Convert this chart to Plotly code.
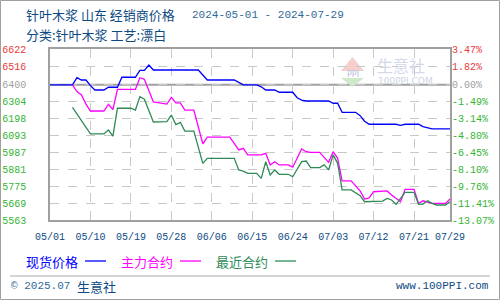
import plotly.graph_objects as go

# ---------------- data ----------------
spot_dates = ['2024-05-01', '2024-05-06', '2024-05-07', '2024-05-08', '2024-05-09', '2024-05-10',
              '2024-05-11', '2024-05-13', '2024-05-14', '2024-05-16', '2024-05-17', '2024-05-20',
              '2024-05-21', '2024-05-22', '2024-05-23', '2024-05-24', '2024-06-03', '2024-06-04',
              '2024-06-05', '2024-06-11', '2024-06-12', '2024-06-13', '2024-06-16', '2024-06-17',
              '2024-06-18', '2024-06-20', '2024-06-21', '2024-06-24', '2024-06-25', '2024-06-26',
              '2024-06-27', '2024-07-02', '2024-07-03', '2024-07-04', '2024-07-05', '2024-07-08',
              '2024-07-09', '2024-07-10', '2024-07-11', '2024-07-17', '2024-07-18', '2024-07-19',
              '2024-07-22', '2024-07-23', '2024-07-25', '2024-07-29']
spot_vals = [6400, 6400, 6445, 6430, 6430, 6395,
             6368, 6368, 6385, 6385, 6447, 6447,
             6490, 6490, 6523, 6492, 6492, 6460,
             6430, 6430, 6415, 6400, 6400, 6388,
             6368, 6368, 6354, 6354, 6320, 6305,
             6300, 6300, 6286, 6286, 6230, 6230,
             6209, 6175, 6156, 6156, 6149, 6156,
             6156, 6141, 6127, 6127]

main_dates = ['2024-05-06', '2024-05-07', '2024-05-08', '2024-05-09', '2024-05-10', '2024-05-13',
              '2024-05-14', '2024-05-15', '2024-05-16', '2024-05-20', '2024-05-21', '2024-05-22',
              '2024-05-24', '2024-05-27', '2024-05-28', '2024-05-29', '2024-05-30', '2024-05-31',
              '2024-06-02', '2024-06-04', '2024-06-05', '2024-06-10', '2024-06-12', '2024-06-13',
              '2024-06-14', '2024-06-17', '2024-06-18', '2024-06-19', '2024-06-20', '2024-06-21',
              '2024-06-23', '2024-06-24', '2024-06-26', '2024-06-27', '2024-06-28', '2024-06-30',
              '2024-07-02', '2024-07-03', '2024-07-04', '2024-07-05', '2024-07-07', '2024-07-09',
              '2024-07-10', '2024-07-11', '2024-07-12', '2024-07-15', '2024-07-16', '2024-07-17',
              '2024-07-18', '2024-07-19', '2024-07-21', '2024-07-22', '2024-07-23', '2024-07-24',
              '2024-07-25', '2024-07-28', '2024-07-29']
main_vals = [6400, 6358, 6337, 6281, 6238, 6238,
             6280, 6247, 6372, 6372, 6444, 6434,
             6294, 6281, 6322, 6288, 6288, 6244,
             6244, 6035, 6076, 6076, 5997, 6007,
             5966, 5966, 5976, 5904, 5924, 5904,
             5904, 5890, 6003, 5986, 5982, 5982,
             5920, 5986, 5945, 5805, 5805, 5743,
             5693, 5700, 5738, 5743, 5718, 5699,
             5676, 5753, 5753, 5666, 5682, 5673,
             5666, 5666, 5693]

near_dates = ['2024-05-06', '2024-05-07', '2024-05-08', '2024-05-09', '2024-05-10', '2024-05-13',
              '2024-05-14', '2024-05-15', '2024-05-16', '2024-05-19', '2024-05-20', '2024-05-21',
              '2024-05-22', '2024-05-24', '2024-05-27', '2024-05-28', '2024-05-29', '2024-05-30',
              '2024-05-31', '2024-06-02', '2024-06-04', '2024-06-05', '2024-06-11', '2024-06-12',
              '2024-06-13', '2024-06-14', '2024-06-16', '2024-06-17', '2024-06-18', '2024-06-19',
              '2024-06-20', '2024-06-21', '2024-06-23', '2024-06-24', '2024-06-26', '2024-06-27',
              '2024-06-28', '2024-06-30', '2024-07-01', '2024-07-02', '2024-07-03', '2024-07-04',
              '2024-07-05', '2024-07-07', '2024-07-08', '2024-07-09', '2024-07-10', '2024-07-14',
              '2024-07-15', '2024-07-16', '2024-07-17', '2024-07-19', '2024-07-21', '2024-07-22',
              '2024-07-23', '2024-07-24', '2024-07-25', '2024-07-26', '2024-07-28', '2024-07-29']
near_vals = [6260, 6218, 6182, 6134, 6096, 6096,
             6120, 6083, 6255, 6255, 6244, 6327,
             6311, 6170, 6172, 6213, 6154, 6168,
             6114, 6114, 5914, 5945, 5945, 5873,
             5866, 5852, 5852, 5821, 5924, 5842,
             5873, 5846, 5846, 5831, 5924, 5928,
             5887, 5887, 5904, 5873, 5966, 5914,
             5749, 5749, 5730, 5714, 5676, 5680,
             5697, 5687, 5660, 5734, 5734, 5660,
             5662, 5682, 5666, 5656, 5656, 5676]

BASE = 6400
Y_MIN, Y_MAX = 5563, 6622
left_labels = ['6622', '6516', '6400', '6304', '6198', '6093', '5987', '5881', '5775', '5669', '5563']
right_labels = ['3.47%', '1.82%', '0.00%', '-1.49%', '-3.14%', '-4.80%', '-6.45%', '-8.10%',
                '-9.76%', '-11.41%', '-13.07%']
x_tick_dates = ['2024-05-01', '2024-05-10', '2024-05-19', '2024-05-28', '2024-06-06', '2024-06-15',
                '2024-06-24', '2024-07-03', '2024-07-12', '2024-07-21', '2024-07-29']
x_tick_text = ['05/01', '05/10', '05/19', '05/28', '06/06', '06/15', '06/24', '07/03', '07/12',
               '07/21', '07/29']
series_names = ['现货价格', '主力合约', '最近合约']
series_colors = ['#0000ff', '#ff00ff', '#2e8b57']

# ---------------- layout helpers ----------------
W, H = 500, 300
L, R, T, B = 50, 450, 49, 220


def px(x):
    return (x - L) / (R - L)


def py(y):
    return (B - y) / (B - T)


step = (BASE - Y_MIN) / 8.0
tickvals = [float(left_labels[0]), float(left_labels[1])] + [BASE - k * step for k in range(9)]

RED, GREY, GREEN = '#e83a3a', '#a0a0a0', '#33b533'


def color_for(i):
    if i < 2:
        return RED
    if i == 2:
        return GREY
    return GREEN


left_text = ['<span style="color:%s">%s</span>' % (color_for(i), t) for i, t in enumerate(left_labels)]
right_text = ['<span style="color:%s">%s</span>' % (color_for(i), t) for i, t in enumerate(right_labels)]

MONO = 'Liberation Mono, DejaVu Sans Mono, monospace'
CJK = 'Noto Sans CJK SC'
TXT = '#0e4a82'

fig = go.Figure()
for name, dts, vals, col in zip(series_names, [spot_dates, main_dates, near_dates],
                                [spot_vals, main_vals, near_vals], series_colors):
    fig.add_trace(go.Scatter(x=dts, y=vals, mode='lines', name=name,
                             line=dict(color=col, width=1.3), showlegend=False))
# invisible trace to anchor right axis
fig.add_trace(go.Scatter(x=spot_dates, y=spot_vals, yaxis='y2', mode='lines',
                         line=dict(width=0), opacity=0, showlegend=False, hoverinfo='skip'))

shapes = []
# base line
shapes.append(dict(type='line', xref='paper', yref='y', x0=0, x1=1, y0=BASE, y1=BASE,
                   line=dict(color='#a0a0a0', width=2), layer='below'))
# watermark logo
shapes.append(dict(type='path', xref='paper', yref='paper', layer='below',
                   path='M %f %f L %f %f L %f %f Z' % (px(352.5), py(57), px(341), py(71), px(364), py(71)),
                   fillcolor='#f5cfcb', line=dict(width=0)))
shapes.append(dict(type='path', xref='paper', yref='paper', layer='below',
                   path='M %f %f L %f %f L %f %f Z' % (px(341), py(78), px(364), py(78), px(352.5), py(87)),
                   fillcolor='#cfe9cb', line=dict(width=0)))
# legend lines
for x0, col in zip([85, 180, 275], series_colors):
    shapes.append(dict(type='line', xref='paper', yref='paper', x0=px(x0), x1=px(x0 + 21),
                       y0=py(261), y1=py(261), line=dict(color=col, width=1.3)))
# footer separator
shapes.append(dict(type='line', xref='paper', yref='paper', x0=px(10), x1=px(490),
                   y0=py(276), y1=py(276), line=dict(color='#aaaaaa', width=1)))
# outer frame
shapes.append(dict(type='rect', xref='paper', yref='paper', x0=px(0.5), x1=px(499.5),
                   y0=py(0.5), y1=py(299.5), line=dict(color='#a0a0a0', width=1)))

ann = []


def add_text(text, x, y, size, color, family, xanchor='left'):
    ann.append(dict(text=text, x=px(x), y=py(y), xref='paper', yref='paper', showarrow=False,
                    xanchor=xanchor, yanchor='middle', font=dict(size=size, color=color, family=family)))


add_text('针叶木浆 山东 经销商价格', 24, 15, 13, TXT, CJK)
add_text('2024-05-01 - 2024-07-29', 190, 15, 11, '#2f6a98', MONO)
add_text('分类:针叶木浆 工艺:漂白', 24, 35, 13, TXT, CJK)
for x0, name, col in zip([24, 119, 214], series_names, series_colors):
    add_text(name, x0, 261, 13, col, CJK)
add_text('© 2025.07', 9, 286, 11, '#2f6a98', MONO)
add_text('生意社', 75, 286, 13, TXT, CJK)
add_text('www.100PPI.com', 491, 286, 11, TXT, MONO, xanchor='right')
# watermark text
add_text('PPI', 352.5, 74.5, 8, '#b5c0da', 'DejaVu Sans', xanchor='center')
add_text('生意社', 401, 64.5, 16, '#d3d9e8', CJK, xanchor='center')
add_text('100PPI.COM', 405, 81, 9, '#cdd4e4', 'DejaVu Sans', xanchor='center')

fig.update_layout(
    width=W, height=H,
    margin=dict(l=L, r=W - R, t=T, b=H - B, pad=0, autoexpand=False),
    paper_bgcolor='white', plot_bgcolor='white',
    xaxis=dict(type='date', range=[x_tick_dates[0], x_tick_dates[-1]],
               tickvals=x_tick_dates, ticktext=x_tick_text, ticks='', automargin=False,
               showgrid=True, gridcolor='#c8c8c8', griddash='dash', gridwidth=1,
               showline=True, linecolor='#a0a0a0', linewidth=1.5, mirror=True, zeroline=False,
               tickfont=dict(family=MONO, size=10, color=TXT), ticklabelstandoff=6),
    yaxis=dict(range=[Y_MIN, Y_MAX], tickvals=tickvals, ticktext=left_text, ticks='', automargin=False,
               showgrid=True, gridcolor='#c8c8c8', griddash='dash', gridwidth=1,
               showline=True, linecolor='#a0a0a0', linewidth=1.5, mirror=True, zeroline=False,
               tickfont=dict(family=MONO, size=10), ticklabelstandoff=20),
    yaxis2=dict(range=[Y_MIN, Y_MAX], tickvals=tickvals, ticktext=right_text, ticks='', automargin=False,
                overlaying='y', side='right', showgrid=False, zeroline=False, showline=False,
                tickfont=dict(family=MONO, size=10), ticklabelstandoff=1),
    shapes=shapes, annotations=ann, showlegend=False,
)

fig.write_html('out.html')
